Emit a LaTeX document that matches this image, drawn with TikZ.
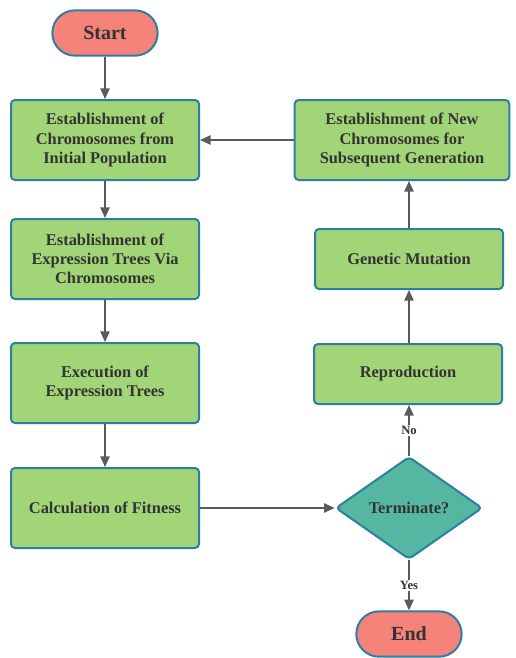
\documentclass[tikz,border=0pt]{standalone}
\usepackage{fontspec}
\setmainfont{Liberation Serif}
\usetikzlibrary{arrows.meta, shapes.geometric}

\definecolor{boxgreen}{HTML}{A2D577}
\definecolor{edgeblue}{HTML}{2C7FA3}
\definecolor{startred}{HTML}{F5837A}
\definecolor{decteal}{HTML}{55B6A1}
\definecolor{linegray}{HTML}{5A5A5A}
\definecolor{textdark}{HTML}{333333}

\begin{document}
\begin{tikzpicture}[x=0.75pt, y=-0.75pt,
				every node/.style={font=\bfseries\fontsize{12.3}{14.3}\selectfont, text=textdark, align=center},
				procbox/.style={draw=edgeblue, fill=boxgreen, line width=1.5pt, rounded corners=3pt, minimum width=141pt, minimum height=60pt},
				smallbox/.style={procbox, minimum height=45pt},
				terminal/.style={draw=edgeblue, fill=startred, line width=1.5pt, rounded corners=17pt, minimum width=79pt, minimum height=34pt, font=\bfseries\fontsize{15}{17}\selectfont},
				decision/.style={diamond, draw=edgeblue, fill=decteal, line width=1.5pt, rounded corners=3pt, aspect=1.43, inner sep=1pt, minimum width=110pt, minimum height=77pt},
				flow/.style={draw=linegray, line width=1.2pt, -{Triangle[length=8pt, width=7pt]}},
				lbl/.style={font=\bfseries\fontsize{9.5}{11}\selectfont, fill=white, inner sep=1pt}
				]
				\useasboundingbox (0,0) rectangle (516,658);
				% left column
				\node[terminal] (start) at (105,33) {Start};
				\node[procbox] (init) at (105,140) {Establishment of\\Chromosomes from\\Initial Population};
				\node[procbox] (trees) at (105,259) {Establishment of\\Expression Trees Via\\Chromosomes};
				\node[procbox] (exec) at (105,383) {Execution of\\Expression Trees};
				\node[procbox] (fit) at (105,508) {Calculation of Fitness};
				% right column
				\node[decision] (term) at (409,508) {Terminate?};
				\node[smallbox] (repro) at (408,374) {Reproduction};
				\node[smallbox] (mut) at (409,259) {Genetic Mutation};
				\node[procbox, minimum width=161pt] (newgen) at (402,140) {Establishment of New\\Chromosomes for\\Subsequent Generation};
				\node[terminal] (end) at (409,634) {End};

				\draw[flow] (start) -- (init);
				\draw[flow] (init) -- (trees);
				\draw[flow] (trees) -- (exec);
				\draw[flow] (exec) -- (fit);
				\draw[flow] (fit) -- (term);
				\draw[flow] (term.north) -- node[lbl, pos=0.5] {No} (term.north |- repro.south);
				\draw[flow] (repro.north -| mut.south) -- (mut.south);
				\draw[flow] (mut.north) -- (mut.north |- newgen.south);
				\draw[flow] (newgen) -- (init);
				\draw[flow] (term.south) -- node[lbl, pos=0.5] {Yes} (term.south |- end.north);
			\end{tikzpicture}
\end{document}
